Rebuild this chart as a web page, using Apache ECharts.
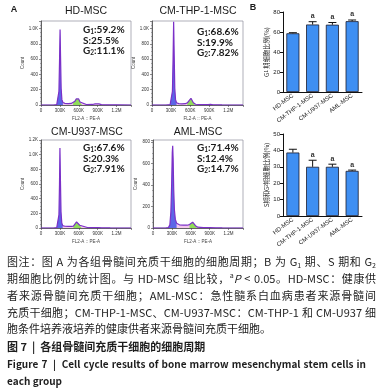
<!DOCTYPE html>
<html><head><meta charset="utf-8">
<script src="https://cdn.jsdelivr.net/npm/echarts@6/dist/echarts.min.js"></script>
<style>html,body{margin:0;padding:0;background:#fff}#c{width:379px;height:389px}</style>
</head><body><div id="c"></div>
<script>
// ---------------- data ----------------
const histTitles = ['HD-MSC', 'CM-THP-1-MSC', 'CM-U937-MSC', 'AML-MSC'];
// DNA content (K) vs cell count
const histHD = [[0,0],[200,0],[250,4],[272,30],[285,180],[295,600],[303,990],[311,620],[320,220],[332,70],[348,32],[380,22],[430,18],[480,20],[510,28],[540,50],[562,80],[580,98],[598,80],[620,40],[650,15],[720,6],[820,7],[860,14],[890,22],[920,14],[960,5],[1050,2],[1200,1],[1430,0]];
const histTHP = [[0,0],[220,0],[285,4],[308,30],[321,180],[331,600],[340,1090],[349,640],[358,220],[370,70],[385,30],[420,18],[470,15],[520,17],[555,28],[580,55],[598,78],[612,88],[628,66],[650,30],[685,10],[760,4],[880,5],[920,8],[960,3],[1100,1],[1430,0]];
const histU937 = [[0,0],[200,0],[250,4],[272,30],[285,180],[294,600],[301,1090],[309,640],[318,220],[330,70],[345,32],[380,24],[430,22],[480,22],[515,26],[545,50],[565,82],[580,102],[596,82],[615,38],[645,12],[750,4],[880,5],[920,7],[960,2],[1100,1],[1430,0]];
const histAML = [[0,0],[200,0],[245,4],[268,30],[284,150],[297,420],[306,700],[313,766],[320,640],[329,360],[340,170],[355,80],[375,45],[420,30],[480,26],[540,26],[580,32],[605,44],[630,54],[652,44],[675,22],[710,8],[800,3],[900,4],[1000,2],[1100,1],[1430,0]];
const histCountMax = [1100, 1100, 1200, 820];
const g1Gate = [348, 385, 345, 385];          // end of G1 fill (K)
const g2Gate = [[510, 650], [555, 685], [515, 645], [565, 710]]; // G2 fill (K)
const phaseG1 = [59.2, 68.6, 67.6, 71.4];
const phaseS = [25.5, 19.9, 20.3, 12.4];
const phaseG2 = [11.1, 7.82, 7.91, 14.7];

const groups = ['HD-MSC', 'CM-THP-1-MSC', 'CM-U937-MSC', 'AML-MSC'];
const g1Mean = [58.7, 67.5, 67.3, 70.8];
const g1Err = [0.6, 2.8, 2.2, 1.2];
const sg2Mean = [38.7, 30.0, 30.0, 27.5];
const sg2Err = [2.0, 4.0, 1.6, 0.5];
const sigMark = ['', 'a', 'a', 'a'];

// ---------------- layout ----------------
const hists = [histHD, histTHP, histU937, histAML];
const histGrids = [
  {left: 41, top: 21, width: 90, height: 84},
  {left: 152, top: 21, width: 91, height: 84},
  {left: 41, top: 140, width: 90, height: 88},
  {left: 153, top: 140, width: 90, height: 88}
];
const barGrids = [
  {left: 283, top: 12, width: 79, height: 80},
  {left: 283, top: 134, width: 79, height: 82}
];
const titlePos = [[86, 11], [198, 11], [87, 132], [198, 132]];
const statPos = [[83, 25], [197, 27], [83, 143], [197, 143]];

const grid = [], xAxis = [], yAxis = [], series = [];
const axColor = '#444';
hists.forEach((h, i) => {
  grid.push(Object.assign({show: true, borderColor: '#8c8c9c', borderWidth: 0.7}, histGrids[i]));
  xAxis.push({
    type: 'value', gridIndex: i, min: 0, max: 1430, interval: 300,
    axisLine: {show: true, onZero: false, lineStyle: {color: axColor, width: 0.8}},
    axisTick: {show: true, length: 2, lineStyle: {color: axColor, width: 0.6}},
    minorTick: {show: true, splitNumber: 5, length: 1, lineStyle: {color: '#666', width: 0.5}},
    splitLine: {show: false},
    axisLabel: {fontSize: 4.5, margin: 3, color: '#333', fontFamily: 'Liberation Sans',
      formatter: v => (v % 300 !== 0 ? '' : v === 0 ? '0' : v >= 1000 ? (v / 1000).toFixed(1) + 'M' : v + 'K')},
    name: 'FL2-A :: PE-A', nameLocation: 'middle', nameGap: 11,
    nameTextStyle: {fontSize: 4.5, color: '#444', fontFamily: 'Liberation Sans'}
  });
  yAxis.push({
    type: 'value', gridIndex: i, min: 0, max: histCountMax[i], interval: 200,
    axisLine: {show: true, onZero: false, lineStyle: {color: axColor, width: 0.8}},
    axisTick: {show: true, length: 2, lineStyle: {color: axColor, width: 0.6}},
    minorTick: {show: true, splitNumber: 4, length: 1, lineStyle: {color: '#666', width: 0.5}},
    splitLine: {show: false},
    axisLabel: {fontSize: 4.5, margin: 3, color: '#333', fontFamily: 'Liberation Sans',
      formatter: v => (v % 200 !== 0 ? '' : v >= 1000 ? (v / 1000).toFixed(1) + 'K' : String(v))},
    name: 'Count', nameLocation: 'middle', nameGap: 10,
    nameTextStyle: {fontSize: 4.5, color: '#444', fontFamily: 'Liberation Sans'}
  });
  const base = {type: 'line', xAxisIndex: i, yAxisIndex: i, symbol: 'none', silent: true, smooth: false};
  series.push(Object.assign({}, base, {data: h, lineStyle: {width: 0}, areaStyle: {color: '#f3c8ec', opacity: 1}, z: 1}));
  series.push(Object.assign({}, base, {data: h.filter(p => p[0] <= g1Gate[i]), lineStyle: {width: 0}, areaStyle: {color: '#5c66e6', opacity: 1}, z: 2}));
  series.push(Object.assign({}, base, {data: h.filter(p => p[0] >= g2Gate[i][0] && p[0] <= g2Gate[i][1]), lineStyle: {width: 0}, areaStyle: {color: '#8fdc5a', opacity: 1}, z: 2}));
  series.push(Object.assign({}, base, {data: h, lineStyle: {color: '#7b30c8', width: 1.2}, z: 3}));
});

function barAxes(k, ymax, yint, nameRich) {
  const gi = 4 + k;
  grid.push(Object.assign({show: false}, barGrids[k]));
  xAxis.push({
    type: 'category', gridIndex: gi, data: groups,
    axisLine: {lineStyle: {color: '#111', width: 1}}, axisTick: {show: false},
    axisLabel: {rotate: 37, fontSize: 6, margin: 3, color: '#222', interval: 0, fontFamily: 'Liberation Sans'}
  });
  yAxis.push({
    type: 'value', gridIndex: gi, min: 0, max: ymax, interval: yint,
    axisLine: {show: true, lineStyle: {color: '#111', width: 1}},
    axisTick: {show: true, length: 3, lineStyle: {color: '#111'}},
    splitLine: {show: false},
    axisLabel: {fontSize: 6, margin: 3, color: '#222', fontFamily: 'Liberation Sans'},
    name: nameRich, nameLocation: 'middle', nameGap: 13,
    nameTextStyle: {fontSize: 6.3, color: '#222', fontFamily: 'Noto Sans CJK SC',
      rich: {n: {fontSize: 6.3, fontFamily: 'Noto Sans CJK SC', color: '#222'},
             s: {fontSize: 4.5, fontFamily: 'Liberation Sans', color: '#222', verticalAlign: 'bottom'}}}
  });
}
barAxes(0, 80, 20, '{n|G}{s|1}{n| 期细胞比例(%)}');
barAxes(1, 50, 10, '{n|S期和G}{s|2}{n|期细胞比例(%)}');

function errSeries(gi, means, errs) {
  return {
    type: 'custom', xAxisIndex: gi, yAxisIndex: gi, z: 5, silent: true,
    data: means.map((m, j) => [j, m, errs[j]]),
    renderItem: (params, api) => {
      const j = api.value(0), m = api.value(1), e = api.value(2);
      const p0 = api.coord([j, m]), p1 = api.coord([j, m + e]);
      const hw = 4;
      const kids = [
        {type: 'line', shape: {x1: p0[0], y1: p0[1], x2: p1[0], y2: p1[1]}, style: {stroke: '#111', lineWidth: 1}},
        {type: 'line', shape: {x1: p1[0] - hw, y1: p1[1], x2: p1[0] + hw, y2: p1[1]}, style: {stroke: '#111', lineWidth: 1}}
      ];
      if (sigMark[params.dataIndex]) {
        kids.push({type: 'text', x: p1[0], y: p1[1] - 2,
          style: {text: sigMark[params.dataIndex], font: 'bold 7px "Liberation Sans"', fill: '#333',
            align: 'center', verticalAlign: 'bottom', textAlign: 'center', textVerticalAlign: 'bottom'}});
      }
      return {type: 'group', children: kids};
    }
  };
}
[[g1Mean, g1Err], [sg2Mean, sg2Err]].forEach((d, k) => {
  const gi = 4 + k;
  series.push({type: 'bar', xAxisIndex: gi, yAxisIndex: gi, data: d[0], barWidth: '66%', silent: true,
    itemStyle: {color: '#3f8ff2', borderColor: '#1c1c2c', borderWidth: 0.8}, z: 3});
  series.push(errSeries(gi, d[0], d[1]));
});

// ---------------- texts ----------------
const graphic = [];
function txt(x, y, text, font, extra) {
  graphic.push(Object.assign({type: 'text', x, y, silent: true,
    style: Object.assign({text, font, fill: '#1a1a1a', align: 'center', verticalAlign: 'middle',
      textAlign: 'center', textVerticalAlign: 'middle'}, extra || {})}));
}
txt(14, 10, 'A', 'bold 9px "Liberation Sans"');
txt(253, 8, 'B', 'bold 9px "Liberation Sans"');
histTitles.forEach((t, i) => txt(titlePos[i][0], titlePos[i][1], t, '10.5px "Liberation Sans"'));
histTitles.forEach((t, i) => {
  graphic.push({type: 'text', x: statPos[i][0], y: statPos[i][1], silent: true,
    style: {text: `{n|G}{s|1}{n|:${phaseG1[i]}%}\n{n|S:${phaseS[i]}%}\n{n|G}{s|2}{n|:${phaseG2[i]}%}`,
      align: 'left', verticalAlign: 'top', textAlign: 'left', textVerticalAlign: 'top',
      rich: {n: {fontSize: 10, fontFamily: 'Lato', fontWeight: 'bold', fill: '#1a1a1a', color: '#1a1a1a', lineHeight: 10.5},
             s: {fontSize: 6.5, fontFamily: 'Lato', fontWeight: 'bold', fill: '#1a1a1a', color: '#1a1a1a', lineHeight: 6, verticalAlign: 'bottom'}}}});
});

// caption, justified line by line
const mctx = document.createElement('canvas').getContext('2d');
const CJK = '"Noto Sans CJK SC"';
function fontOf(kind, bold, size) {
  const w = bold ? 'bold ' : '';
  if (kind === 'sub' || kind === 'sup') return `${w}7px ${CJK}`;
  if (kind === 'it') return `italic ${w}${size}px ${CJK}`;
  return `${w}${size}px ${CJK}`;
}
const isWord = c => /[A-Za-z0-9.\-%<>]/.test(c);
function capLine(segs, y, x0, x1, justify, bold, size) {
  const chars = [];
  segs.forEach(s => {
    const kind = s[1] || 'n';
    for (const ch of s[0]) chars.push({ch, kind, font: fontOf(kind, bold, size), dy: kind === 'sub' ? 3 : kind === 'sup' ? -4 : 0});
  });
  chars.forEach(c => { mctx.font = c.font; c.w = mctx.measureText(c.ch).width; });
  const total = chars.reduce((a, c) => a + c.w, 0);
  let slots = 0;
  for (let i = 1; i < chars.length; i++) if (!(isWord(chars[i - 1].ch) && isWord(chars[i].ch))) slots++;
  const gap = justify && slots ? Math.max(0, (x1 - x0 - total) / slots) : 0;
  let x = x0;
  chars.forEach((c, i) => {
    if (i > 0 && !(isWord(chars[i - 1].ch) && isWord(c.ch))) x += gap;
    if (c.ch !== ' ') graphic.push({type: 'text', x, y: y + c.dy, silent: true,
      style: {text: c.ch, font: c.font, fill: '#1e1e1e', align: 'left', verticalAlign: 'middle', textAlign: 'left', textVerticalAlign: 'middle'}});
    x += c.w;
  });
}
const capLines = [
  [['图注：图 A 为各组骨髓间充质干细胞的细胞周期；B 为 G'], ['1', 'sub'], [' 期、S 期和 G'], ['2', 'sub']],
  [['期细胞比例的统计图。与 HD-MSC 组比较，'], ['a', 'sup'], ['P', 'it'], [' < 0.05。HD-MSC：健康供']],
  [['者来源骨髓间充质干细胞；AML-MSC：急性髓系白血病患者来源骨髓间']],
  [['充质干细胞；CM-THP-1-MSC、CM-U937-MSC：CM-THP-1 和 CM-U937 细']],
  [['胞条件培养液培养的健康供者来源骨髓间充质干细胞。']]
];
const capY = [262, 279, 296, 313, 329];
capLines.forEach((l, i) => capLine(l, capY[i], 7, 376, i < 4, false, 11));
capLine([['图 7  |  各组骨髓间充质干细胞的细胞周期']], 347, 7, 376, false, true, 11);
capLine([['Figure 7  |  Cell cycle results of bone marrow mesenchymal stem cells in']], 364, 7, 366, true, true, 10);
capLine([['each group']], 381, 7, 376, false, true, 10);

const chart = echarts.init(document.getElementById('c'), null, {renderer: 'canvas', width: 379, height: 389});
chart.setOption({animation: false, backgroundColor: '#fff', grid, xAxis, yAxis, series, graphic});
</script></body></html>
